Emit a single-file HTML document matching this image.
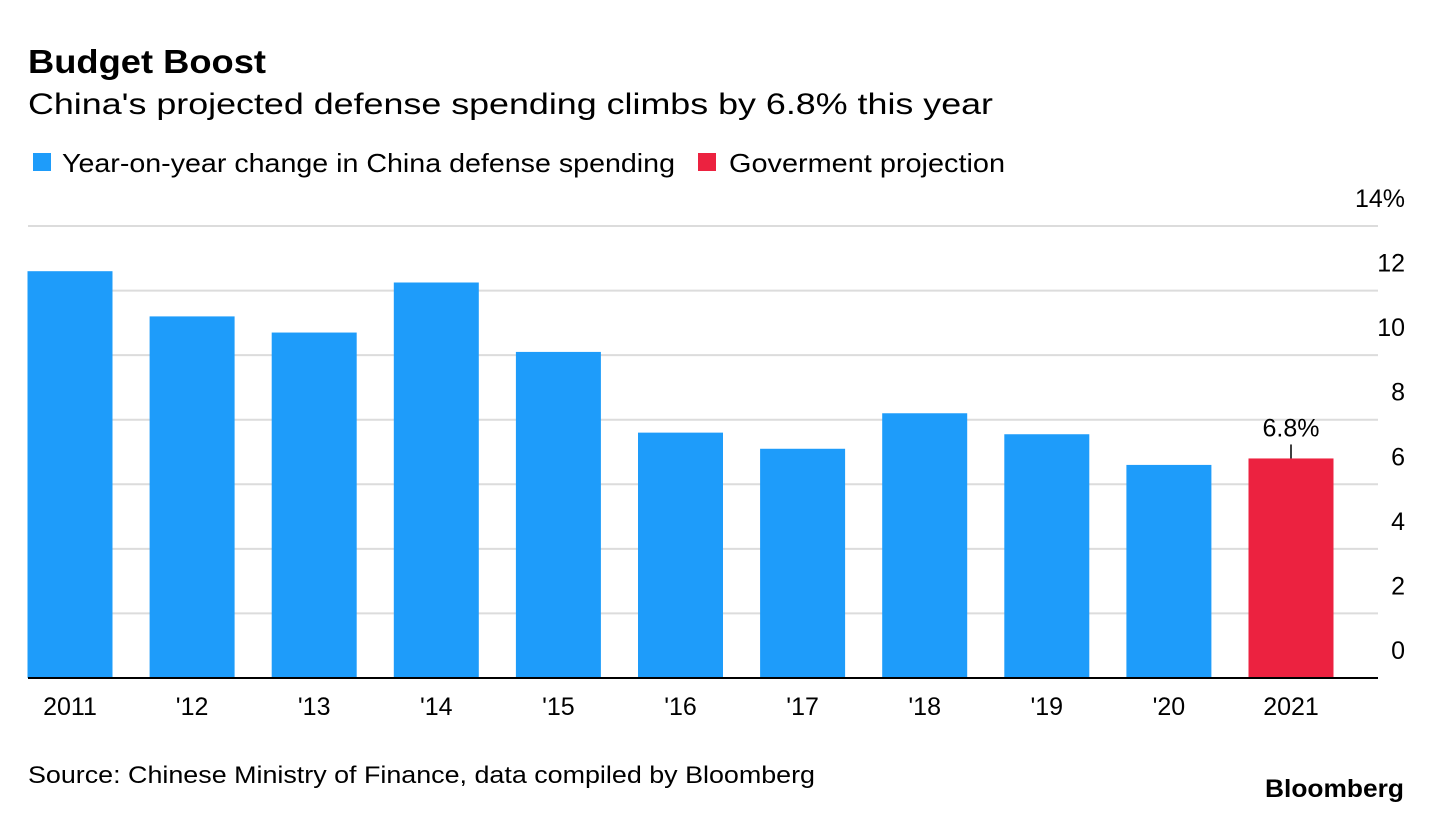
<!DOCTYPE html>
<html><head><meta charset="utf-8"><style>
body{margin:0;background:#fff;font-family:"Liberation Sans",Arial,sans-serif;}
svg text{font-family:"Liberation Sans",Arial,sans-serif;}
</style></head><body>
<svg width="1432" height="814" viewBox="0 0 1432 814">
<text x="28" y="73" font-size="33" font-weight="bold" fill="#000" textLength="238" lengthAdjust="spacingAndGlyphs">Budget Boost</text>
<text x="28" y="114" font-size="30" fill="#000" textLength="965" lengthAdjust="spacingAndGlyphs">China's projected defense spending climbs by 6.8% this year</text>
<rect x="33" y="153" width="18" height="18" fill="#1e9cfa"/>
<text x="62" y="172" font-size="26" fill="#000" textLength="613" lengthAdjust="spacingAndGlyphs">Year-on-year change in China defense spending</text>
<rect x="698" y="153" width="18" height="18" fill="#ec2240"/>
<text x="729" y="172" font-size="26" fill="#000" textLength="276" lengthAdjust="spacingAndGlyphs">Goverment projection</text>
<g id="grid"></g><g id="bars"></g><g id="xlabels"></g>
<text x="28" y="783" font-size="24" fill="#000" textLength="787" lengthAdjust="spacingAndGlyphs">Source: Chinese Ministry of Finance, data compiled by Bloomberg</text>
<text x="1265" y="797" font-size="25" font-weight="bold" fill="#000" textLength="139" lengthAdjust="spacingAndGlyphs">Bloomberg</text>
</svg>
<script>
const categories=["2011","'12","'13","'14","'15","'16","'17","'18","'19","'20","2021"];
const values=[12.6,11.2,10.7,12.25,10.1,7.6,7.1,8.2,7.55,6.6,6.8];
const projected=[false,false,false,false,false,false,false,false,false,false,true];
const yTicks=[0,2,4,6,8,10,12,14];
const NS="http://www.w3.org/2000/svg";
const y0=678,pxPer=452/14;
function y(v){return y0-v*pxPer;}
function xc(i){return 70+i*122.1;}
function mk(t,a,p){const e=document.createElementNS(NS,t);for(const k in a)e.setAttribute(k,a[k]);p.appendChild(e);return e;}
const grid=document.getElementById('grid'),bars=document.getElementById('bars'),xl=document.getElementById('xlabels');
yTicks.forEach(v=>{
 if(v>0){const l=mk('line',{x1:28,x2:1378,y1:y(v),y2:y(v),stroke:'#dcdcdc','stroke-width':2},grid);
 
 }
 const t=mk('text',{x:1405,y:y(v)-19,'font-size':25,'text-anchor':'end',fill:'#000'},grid);
 t.textContent=v===14?'14%':String(v);
 
 
});
values.forEach((v,i)=>{
 const r=mk('rect',{x:xc(i)-42.5,y:y(v),width:85,height:y0-y(v),fill:projected[i]?'#ec2240':'#1e9cfa'},bars);
 
 
 const t=mk('text',{x:xc(i),y:715,'font-size':25,'text-anchor':'middle',fill:'#000'},xl);
 t.textContent=categories[i];
 
 
 if(projected[i]){
  const ln=mk('line',{x1:xc(i),x2:xc(i),y1:y(v)-14,y2:y(v),stroke:'#000','stroke-width':1.5},bars);
  
  
  const a=mk('text',{x:xc(i),y:y(v)-22,'font-size':25,'text-anchor':'middle',fill:'#000'},bars);
  a.textContent=v.toFixed(1)+'%';
  
  
 }
});
const base=mk('line',{x1:28,x2:1378,y1:y0,y2:y0,stroke:'#000','stroke-width':2},bars);


</script>
</body></html>
